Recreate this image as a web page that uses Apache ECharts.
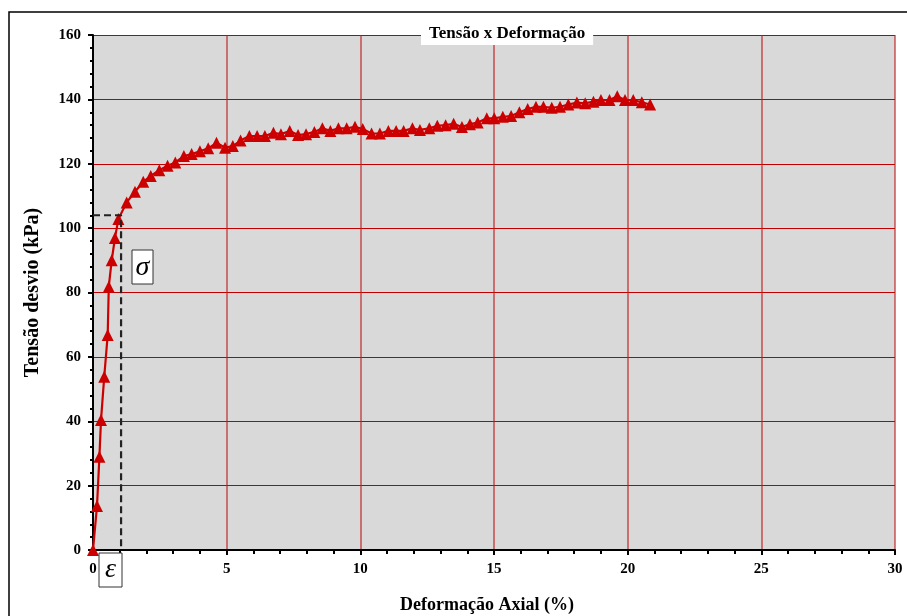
<!DOCTYPE html>
<html>
<head>
<meta charset="utf-8">
<script src="https://cdn.jsdelivr.net/npm/echarts@6/dist/echarts.min.js"></script>
<style>
html,body{margin:0;padding:0;background:#fff;}
#chart{width:907px;height:616px;}
</style>
</head>
<body>
<div id="chart"></div>
<script>
const strain = [0,0.15,0.24,0.30,0.42,0.55,0.59,0.70,0.82,0.95,1.26,1.57,1.88,2.16,2.48,2.79,3.08,3.40,3.69,4.00,4.31,4.62,4.94,5.23,5.52,5.85,6.14,6.43,6.75,7.03,7.36,7.67,7.97,8.28,8.58,8.88,9.18,9.49,9.80,10.09,10.42,10.73,11.05,11.34,11.62,11.95,12.23,12.58,12.88,13.19,13.49,13.80,14.10,14.39,14.73,15.01,15.33,15.64,15.95,16.26,16.57,16.85,17.16,17.47,17.78,18.10,18.41,18.72,19.00,19.32,19.61,19.90,20.21,20.53,20.84];
const stress = [0,13.7,29,40.4,53.8,66.8,81.8,90,96.9,102.8,108,111.3,114.4,116.2,118,119.4,120.4,122.4,123,123.9,124.8,126.5,125,125.5,127.2,128.6,128.6,128.6,129.6,129.2,130.2,128.9,129.2,129.9,131,130.2,131,131,131.5,130.8,129.4,129.4,130.2,130.2,130.2,131,130.5,131,131.8,132,132.4,131.4,132.3,132.8,134.1,134.1,134.6,134.8,136,137,137.7,137.7,137.4,137.7,138.4,139,138.8,139.3,139.8,139.8,141,139.8,139.8,139.1,138.4];
const yieldStrain = 1.05;
const yieldStress = 104;
const xTicks = [0, 30, 5];
const yTicks = [0, 160, 20];
const titleText = 'Tensão x Deformação';
const xName = 'Deformação Axial (%)';
const yName = 'Tensão desvio (kPa)';

const curve = strain.map((x, i) => [x, stress[i]]);
const dashed = [[0, yieldStress], [yieldStrain, yieldStress], [yieldStrain, 0]];

const serif = '"Liberation Serif", "Times New Roman", serif';
const chart = echarts.init(document.getElementById('chart'), null, {renderer: 'canvas'});
chart.setOption({
  animation: false,
  backgroundColor: '#fff',
  title: {
    text: titleText,
    left: 421, top: 22,
    padding: [3, 8, 3, 8],
    backgroundColor: '#fff',
    textStyle: {fontFamily: serif, fontWeight: 'bold', fontSize: 17, color: '#000'}
  },
  grid: {left: 93, top: 35, right: 12, bottom: 66, show: true, backgroundColor: '#d9d9d9', borderWidth: 0, outerBoundsMode: 'none', containLabel: false},
  xAxis: {
    type: 'value', min: xTicks[0], max: xTicks[1], interval: xTicks[2],
    name: xName, nameLocation: 'middle', nameGap: 46,
    nameTextStyle: {fontFamily: serif, fontWeight: 'bold', fontSize: 18, color: '#000', padding: [0, 14, 0, 0]},
    axisLine: {show: true, onZero: false, lineStyle: {color: '#000', width: 2}},
    axisTick: {show: true, length: 5, lineStyle: {color: '#000', width: 2}},
    minorTick: {show: true, splitNumber: 5, length: 4, lineStyle: {color: '#000', width: 2}},
    splitLine: {show: true, lineStyle: {color: 'rgba(190,30,30,0.75)', width: 1.5}},
    axisLabel: {margin: 12, fontFamily: serif, fontWeight: 'bold', fontSize: 15, color: '#000'}
  },
  yAxis: {
    type: 'value', min: yTicks[0], max: yTicks[1], interval: yTicks[2],
    name: yName, nameLocation: 'middle', nameGap: 50, nameRotate: 90,
    nameTextStyle: {fontFamily: serif, fontWeight: 'bold', fontSize: 20, color: '#000'},
    axisLine: {show: true, onZero: false, lineStyle: {color: '#000', width: 2}},
    axisTick: {show: true, length: 5, lineStyle: {color: '#000', width: 2}},
    minorTick: {show: true, splitNumber: 5, length: 3, lineStyle: {color: '#000', width: 2}},
    splitLine: {show: true, lineStyle: {color: '#c00000', width: 1}},
    axisLabel: {margin: 12, fontFamily: serif, fontWeight: 'bold', fontSize: 15, color: '#000'}
  },
  graphic: [
    {type: 'rect', shape: {x: 9, y: 12, width: 1000, height: 700}, style: {fill: 'none', stroke: '#000', lineWidth: 1.5}, z: 100, silent: true},
    {type: 'rect', shape: {x: 132, y: 250, width: 21, height: 34}, style: {fill: '#fff', stroke: '#333', lineWidth: 1}, z: 100},
    {type: 'text', x: 142.5, y: 268, style: {text: 'σ', font: 'italic 28px ' + serif, fill: '#000', align: 'center', verticalAlign: 'middle'}, z: 101},
    {type: 'rect', shape: {x: 99, y: 553, width: 23, height: 34}, style: {fill: '#fff', stroke: '#333', lineWidth: 1}, z: 100},
    {type: 'text', x: 110.5, y: 570, style: {text: 'ε', font: 'italic 28px ' + serif, fill: '#000', align: 'center', verticalAlign: 'middle'}, z: 101}
  ],
  series: [
    {
      type: 'line', data: curve, symbol: 'triangle', symbolSize: 12,
      itemStyle: {color: '#cc0000'}, lineStyle: {color: '#cc0000', width: 2.2}, z: 3
    },
    {
      type: 'line', data: dashed, symbol: 'none',
      lineStyle: {color: '#222', width: 2.2, type: [7, 4]}, z: 4
    }
  ]
});
</script>
</body>
</html>
